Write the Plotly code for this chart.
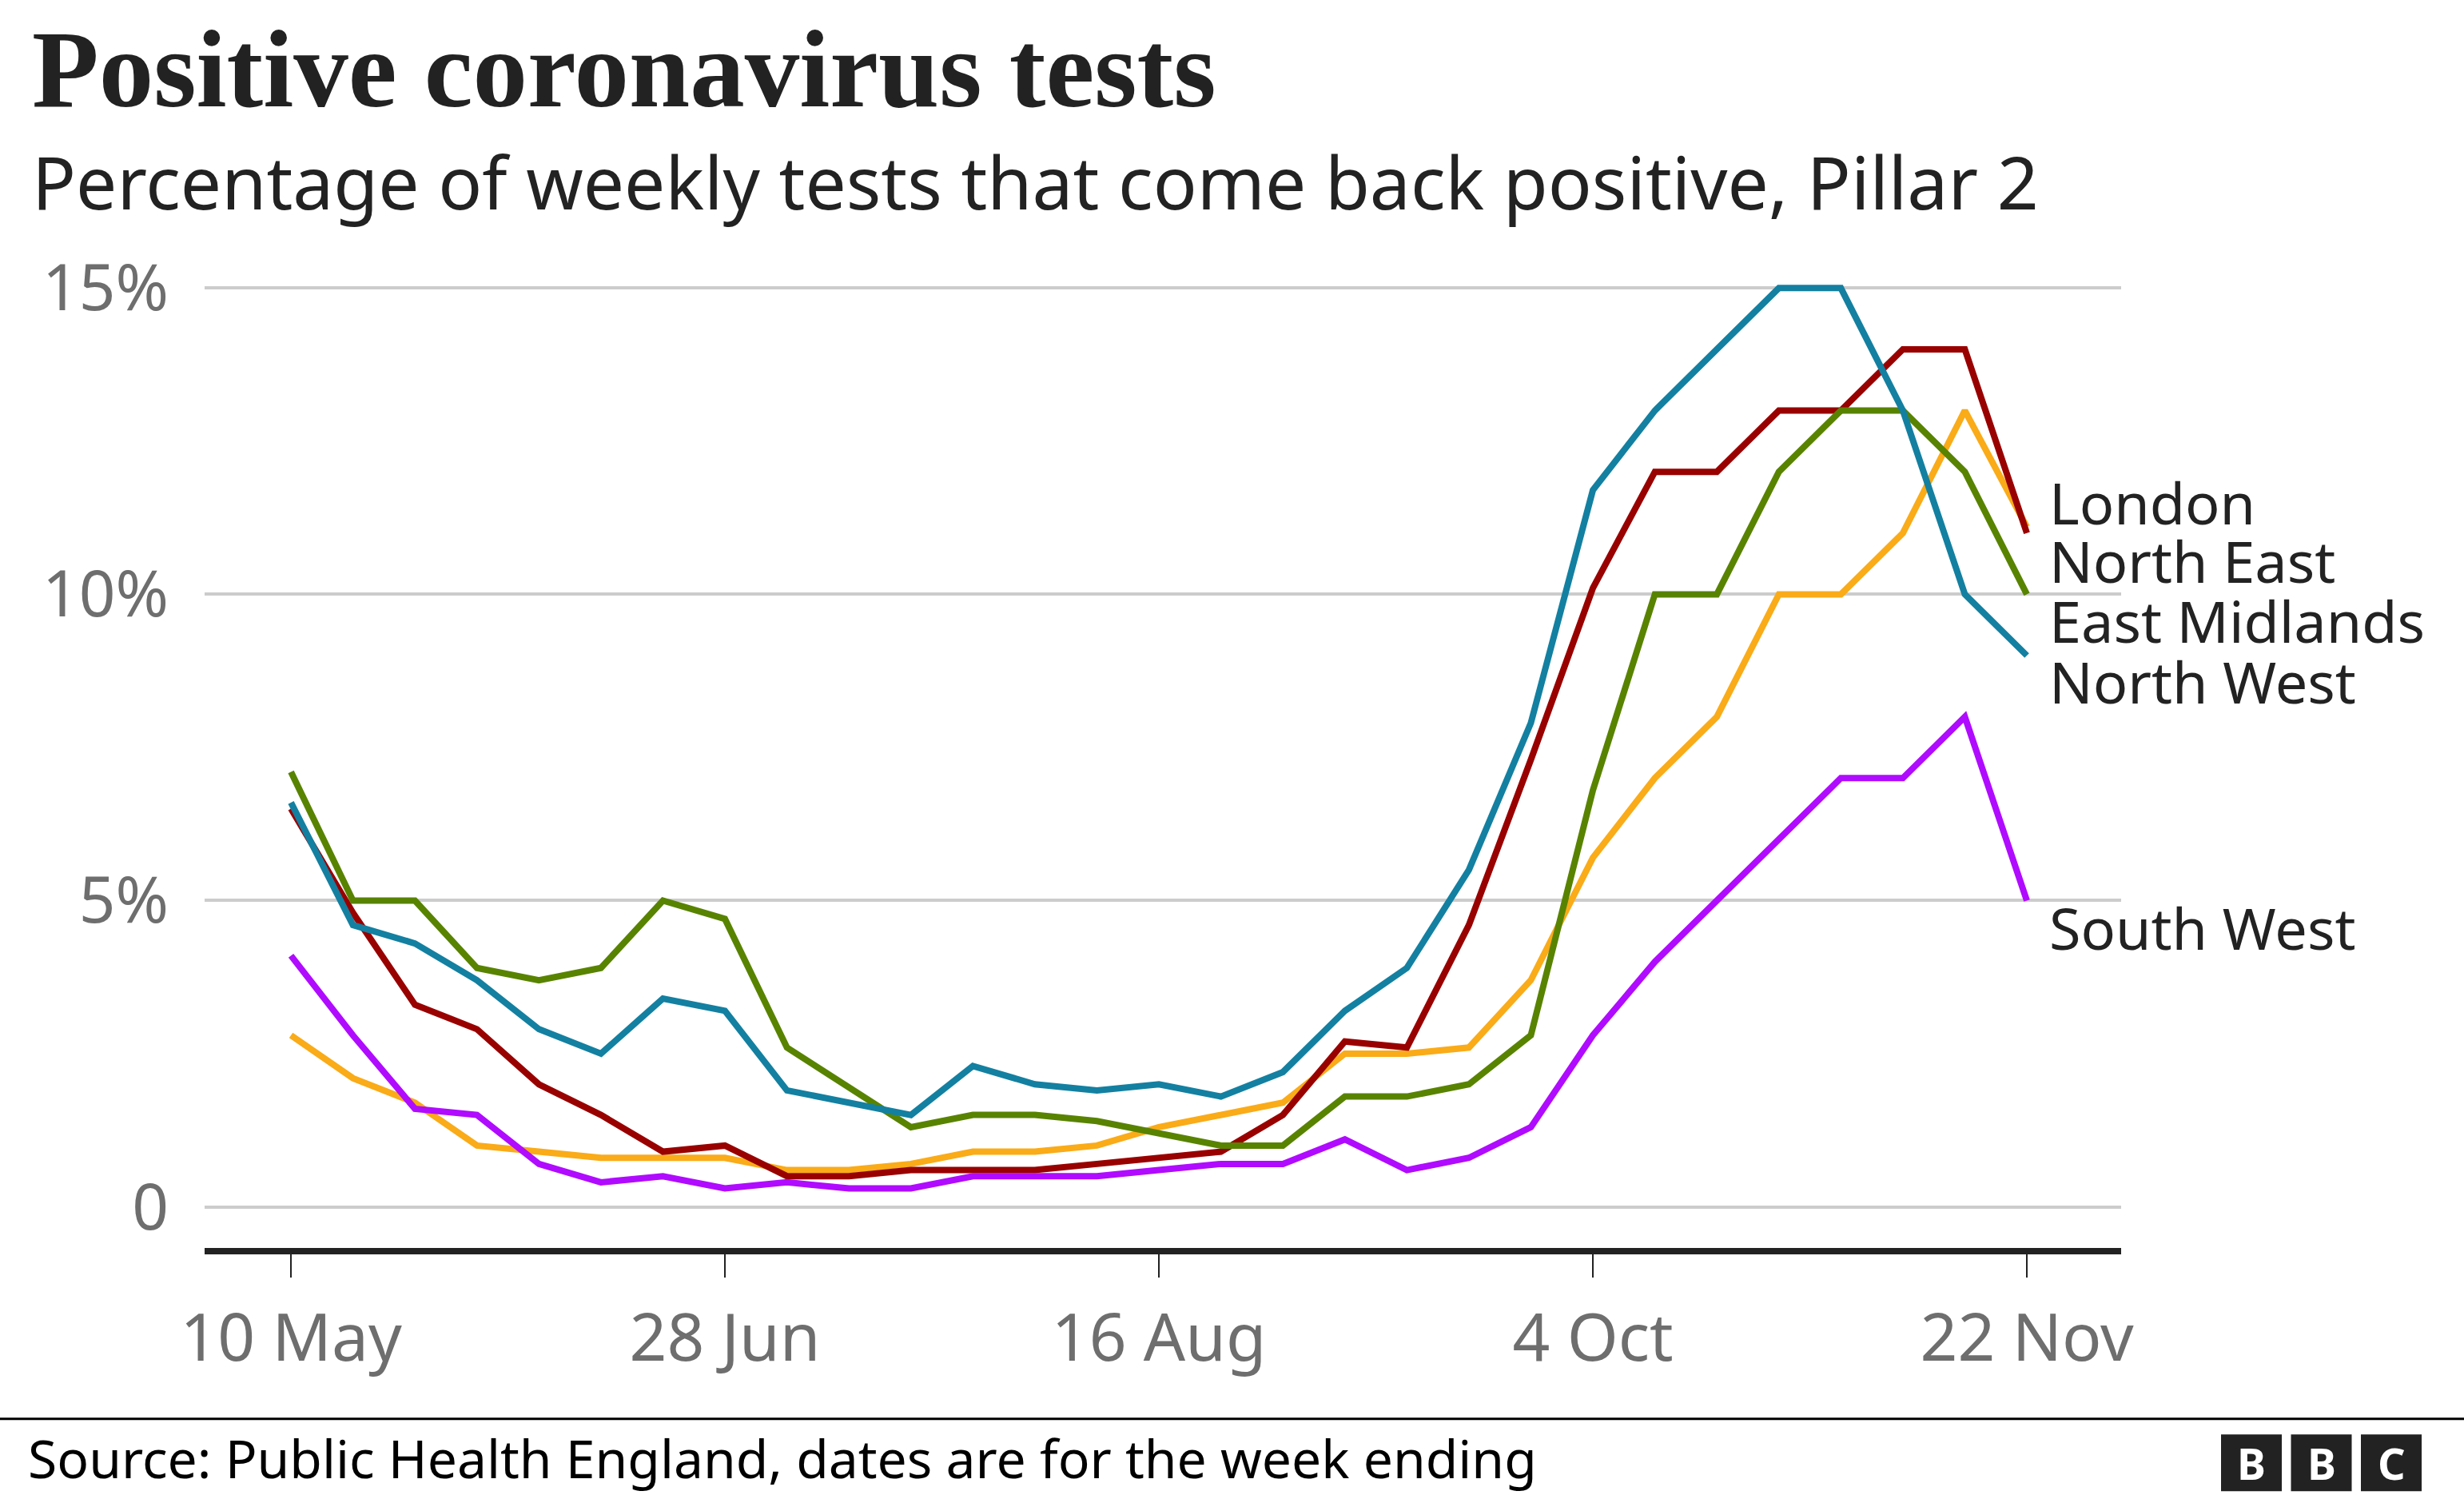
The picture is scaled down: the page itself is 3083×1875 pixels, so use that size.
import pandas as pd
import plotly.graph_objects as go

# --- datos (semanas que terminan el domingo, Pillar 2) ---
week_ending = pd.date_range("2020-05-10", periods=29, freq="7D")

london = [2.8, 2.1, 1.7, 1.0, 0.9, 0.8, 0.8, 0.8, 0.6, 0.6, 0.7, 0.9, 0.9, 1.0, 1.3,
          1.5, 1.7, 2.5, 2.5, 2.6, 3.7, 5.7, 7.0, 8.0, 10.0, 10.0, 11.0, 13.0, 11.1]
north_east = [6.5, 4.8, 3.3, 2.9, 2.0, 1.5, 0.9, 1.0, 0.5, 0.5, 0.6, 0.6, 0.6, 0.7, 0.8,
              0.9, 1.5, 2.7, 2.6, 4.6, 7.3, 10.1, 12.0, 12.0, 13.0, 13.0, 14.0, 14.0, 11.0]
east_midlands = [7.1, 5.0, 5.0, 3.9, 3.7, 3.9, 5.0, 4.7, 2.6, 1.95, 1.3, 1.5, 1.5, 1.4, 1.2,
                 1.0, 1.0, 1.8, 1.8, 2.0, 2.8, 6.8, 10.0, 10.0, 12.0, 13.0, 13.0, 12.0, 10.0]
north_west = [6.6, 4.6, 4.3, 3.7, 2.9, 2.5, 3.4, 3.2, 1.9, 1.7, 1.5, 2.3, 2.0, 1.9, 2.0,
              1.8, 2.2, 3.2, 3.9, 5.5, 7.9, 11.7, 13.0, 14.0, 15.0, 15.0, 13.0, 10.0, 9.0]
south_west = [4.1, 2.8, 1.6, 1.5, 0.7, 0.4, 0.5, 0.3, 0.4, 0.3, 0.3, 0.5, 0.5, 0.5, 0.6,
              0.7, 0.7, 1.1, 0.6, 0.8, 1.3, 2.8, 4.0, 5.0, 6.0, 7.0, 7.0, 8.0, 5.0]

x_tick_dates = ["2020-05-10", "2020-06-28", "2020-08-16", "2020-10-04", "2020-11-22"]
x_tick_labels = ["10 May", "28 Jun", "16 Aug", "4 Oct", "22 Nov"]
y_tick_vals = [0, 5, 10, 15]
y_tick_labels = ["0", "5%", "10%", "15%"]

# --- estilo ---
series = [
    ("London", london, "#FAAB18"),
    ("North East", north_east, "#990000"),
    ("East Midlands", east_midlands, "#588300"),
    ("North West", north_west, "#1380A1"),
    ("South West", south_west, "#B00BFF"),
]
# posición vertical de las etiquetas de la derecha
label_y = {"London": 11.5, "North East": 10.55, "East Midlands": 9.57,
           "North West": 8.58, "South West": 4.56}

W, H = 3083, 1875
PL, PR, PT, PB = 256, 2654, 344.6, 1561.5
SANS = "Noto Sans"
INK = "#222222"
GREY = "#6e6e6e"


def px_x(px):
    return (px - PL) / (PR - PL)


def px_y(py):
    return (PB - py) / (PB - PT)


fig = go.Figure()
for name, vals, color in series:
    fig.add_trace(go.Scatter(x=week_ending, y=vals, name=name, mode="lines",
                             line=dict(color=color, width=8), showlegend=False))

# etiquetas pegadas: caja de altura fija para que no se solapen
for name, vals, color in series:
    fig.add_annotation(x=week_ending[-1], y=label_y[name], xref="x", yref="y",
                       text=name, showarrow=False, xanchor="left", yanchor="middle",
                       xshift=26, height=72, valign="middle",
                       font=dict(family=SANS, size=72, color=INK))

# --- títulos y fuente ---
fig.add_annotation(x=px_x(38), y=px_y(133 - 0.3375 * 137), xref="paper", yref="paper",
                   text="<b>Positive coronavirus tests</b>", showarrow=False,
                   xanchor="left", yanchor="middle",
                   font=dict(family="Liberation Serif", size=137, color=INK))
fig.add_annotation(x=px_x(38), y=px_y(262 - 0.388 * 91), xref="paper", yref="paper",
                   text="Percentage of weekly tests that come back positive, Pillar 2",
                   showarrow=False, xanchor="left", yanchor="middle",
                   font=dict(family=SANS, size=91, color=INK))
fig.add_annotation(x=px_x(33), y=px_y(1849 - 0.388 * 66), xref="paper", yref="paper",
                   text="Source: Public Health England, dates are for the week ending",
                   showarrow=False, xanchor="left", yanchor="middle",
                   font=dict(family=SANS, size=66, color="#000000"))

fig.add_shape(type="line", xref="paper", yref="paper", x0=px_x(0), x1=px_x(W),
              y0=px_y(1775.5), y1=px_y(1775.5), line=dict(color="#000000", width=3))

# logo BBC
for i, letter in enumerate(["B", "B", "C"]):
    x0 = 2779 + i * 87.5
    fig.add_shape(type="rect", xref="paper", yref="paper",
                  x0=px_x(x0), x1=px_x(x0 + 76), y0=px_y(1866), y1=px_y(1795),
                  fillcolor=INK, line=dict(width=0))
    fig.add_annotation(x=px_x(x0 + 38), y=px_y(1831), xref="paper", yref="paper",
                       text="<b>%s</b>" % letter, showarrow=False,
                       xanchor="center", yanchor="middle",
                       font=dict(family=SANS, size=54, color="white"))

fig.update_layout(
    width=W, height=H,
    margin=dict(l=PL, r=W - PR, t=PT, b=H - PB, pad=0),
    paper_bgcolor="white", plot_bgcolor="white",
    xaxis=dict(type="date", range=["2020-04-30 06:00", "2020-12-02 15:30"],
               tickvals=x_tick_dates, ticktext=x_tick_labels,
               showgrid=False, zeroline=False,
               showline=True, linecolor=INK, linewidth=8,
               ticks="outside", ticklen=29, tickwidth=2, tickcolor=INK,
               ticklabelstandoff=6,
               tickfont=dict(family=SANS, size=82, color=GREY)),
    yaxis=dict(range=[-0.672, 15.2], tickvals=y_tick_vals, ticktext=y_tick_labels,
               showgrid=True, gridcolor="#cccccc", gridwidth=3.5, zeroline=False,
               showline=False, ticks="", ticklabelstandoff=44,
               tickfont=dict(family=SANS, size=80, color=GREY)),
)

fig.write_html("out.html", config={"displayModeBar": False},
               post_script="document.body.style.margin='0';")
